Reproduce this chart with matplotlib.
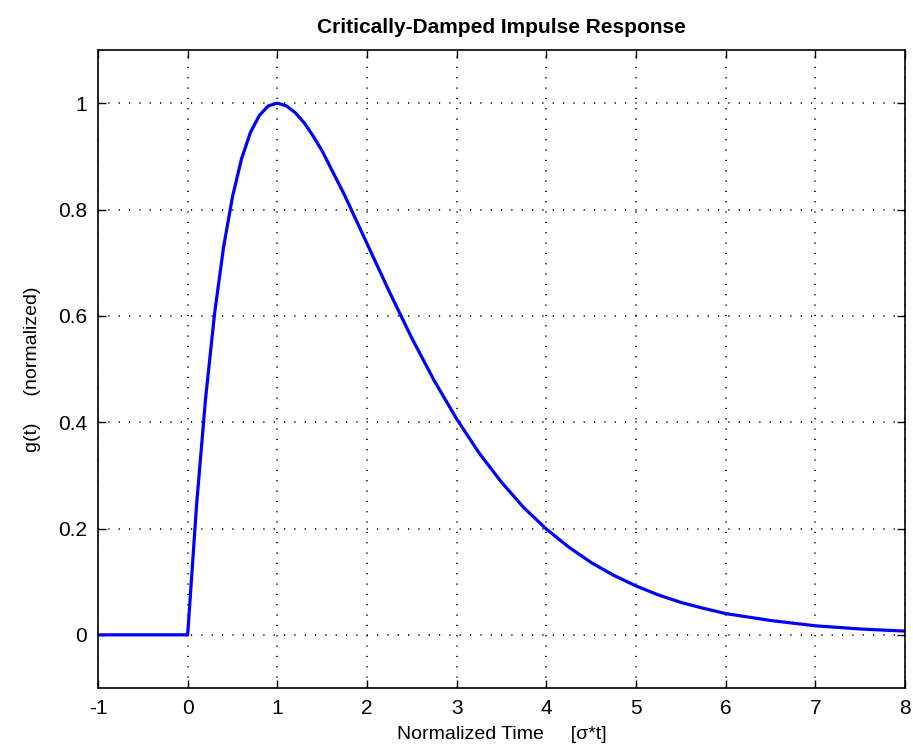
import matplotlib
matplotlib.use("Agg")
import matplotlib.pyplot as plt

# values
t_vals = [-1.0, 0.0, 0.1, 0.2, 0.3, 0.4, 0.5, 0.6, 0.7, 0.8, 0.9, 1.0, 1.1, 1.2, 1.3, 1.4,
          1.5, 1.75, 2.0, 2.25, 2.5, 2.75, 3.0, 3.25, 3.5, 3.75, 4.0, 4.25, 4.5, 4.75, 5.0,
          5.25, 5.5, 5.75, 6.0, 6.5, 7.0, 7.5, 8.0]
g_vals = [0.0, 0.0, 0.246, 0.445, 0.604, 0.729, 0.824, 0.895, 0.945, 0.977, 0.995, 1.0,
          0.995, 0.982, 0.963, 0.938, 0.910, 0.827, 0.736, 0.645, 0.558, 0.478, 0.406,
          0.342, 0.287, 0.239, 0.199, 0.165, 0.136, 0.112, 0.092, 0.075, 0.061, 0.050,
          0.040, 0.027, 0.017, 0.011, 0.007]

x_ticks = [-1, 0, 1, 2, 3, 4, 5, 6, 7, 8]
y_ticks = [0, 0.2, 0.4, 0.6, 0.8, 1.0]
y_tick_labels = ['0', '0.2', '0.4', '0.6', '0.8', '1']

plt.rcParams['font.family'] = ['Liberation Sans Narrow', 'Liberation Sans', 'DejaVu Sans']

fig = plt.figure(figsize=(9.13, 7.55), dpi=100)
ax = fig.add_axes([98 / 913, 67 / 755, 807 / 913, 638 / 755])

ax.plot(t_vals, g_vals, color='#0000ff', linewidth=2.3)

ax.set_xlim(-1, 8)
ax.set_ylim(-0.1, 1.1)
ax.set_xticks(x_ticks)
ax.set_xticklabels([str(v) for v in x_ticks])
ax.set_yticks(y_ticks)
ax.set_yticklabels(y_tick_labels)

ax.grid(True, color='black', linestyle=(0, (0.7, 5.5)), linewidth=1.2)
ax.tick_params(direction='in', length=6, width=1, top=True, right=True,
               labelsize=15, pad=8, colors='black')
for sp in ax.spines.values():
    sp.set_linewidth(1.2)

ax.set_title('Critically-Damped Impulse Response', fontsize=15, fontweight='bold', pad=12)
ax.set_xlabel('Normalized Time     [σ*t]', fontsize=14, labelpad=6)
ax.set_ylabel('g(t)     (normalized)', fontsize=14, labelpad=12)

plt.savefig('out.png', dpi=100)
